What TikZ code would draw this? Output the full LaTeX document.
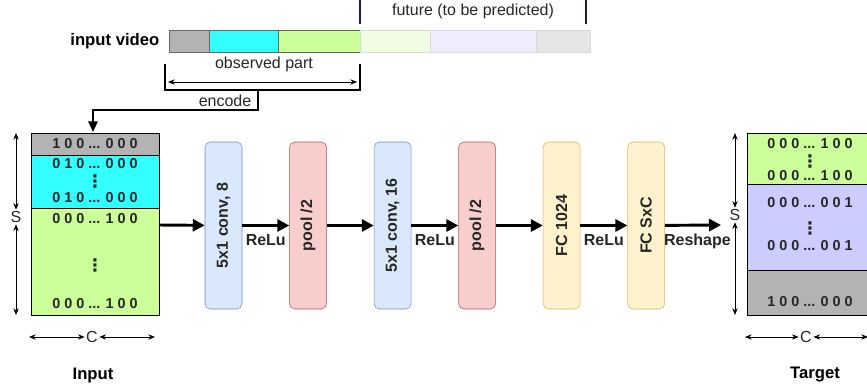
\documentclass[tikz,border=0pt]{standalone}
\usepackage{fontspec}
\setmainfont{Liberation Sans}
\newfontfamily\dejavu{DejaVu Sans}
\usetikzlibrary{arrows.meta,positioning}

\definecolor{txtgray}{HTML}{262626}
\definecolor{cellgray}{HTML}{B3B3B3}
\definecolor{cellcyan}{HTML}{33FFFF}
\definecolor{cellgreen}{HTML}{CCFF99}
\definecolor{celllav}{HTML}{CCCCFF}
\definecolor{futgreen}{HTML}{EFFDE3}
\definecolor{futlav}{HTML}{EEEEFF}
\definecolor{futgray}{HTML}{E6E6E6}
\definecolor{convfill}{HTML}{DAE8FC}
\definecolor{convline}{HTML}{6C8EBF}
\definecolor{poolfill}{HTML}{F8CECC}
\definecolor{poolline}{HTML}{B85450}
\definecolor{fcfill}{HTML}{FFF2CC}
\definecolor{fcline}{HTML}{D6B656}
\definecolor{navy}{HTML}{1A1A4D}

\newcommand{\vdotsrow}{{\dejavu\bfseries\fontsize{13}{13}\selectfont ⋮}}

\begin{document}
\begin{tikzpicture}[x=0.75pt,y=-0.75pt,
                    node distance=35.25pt,
                    every node/.style={font=\fontsize{12}{14}\selectfont,text=txtgray},
                    layer/.style={draw,rounded corners=4pt,minimum width=27.75pt,
                                  minimum height=125.25pt,inner sep=0pt,
                                  font=\bfseries\fontsize{12}{14}\selectfont},
                    conv node/.style={layer,fill=convfill,draw=convline},
                    pool node/.style={layer,fill=poolfill,draw=poolline},
                    fc node/.style={layer,fill=fcfill,draw=fcline},
                    flow/.style={-{Triangle[length=9pt,width=9pt]},line width=2.2pt},
                    row/.style={inner sep=0pt,font=\bfseries\fontsize{10.8}{12}\selectfont},
                    dim/.style={{Stealth[length=5pt,width=4pt]}-{Stealth[length=5pt,width=4pt]},line width=0.6pt},
                    bold label/.style={font=\bfseries\fontsize{12.5}{14}\selectfont,text=black}]

  \useasboundingbox (0,0) rectangle (867,389);

  % input video strip
  \node[bold label,anchor=east] (video) at (164,41) {input video};
  \draw[draw=black!60,fill=cellgray] (169,30) rectangle (209,52);
  \draw[draw=black!60,fill=cellcyan] (209,30) rectangle (278,52);
  \draw[draw=black!60,fill=cellgreen] (278,30) rectangle (360,52);
  \draw[draw=black!15,fill=futgreen] (360,30) rectangle (430,52);
  \draw[draw=black!15,fill=futlav] (430,30) rectangle (536,52);
  \draw[draw=black!15,fill=futgray] (536,30) rectangle (590,52);

  % future bracket
  \draw[navy,line width=1.5pt] (360,0) -- (360,24);
  \draw[navy,line width=1.5pt] (586,0) -- (586,24);
  \node (future) at (473,11) {future (to be predicted)};

  % observed bracket
  \node (observed) at (264,64) {observed part};
  \coordinate (obsL) at (165,64);
  \coordinate (obsR) at (360,64);
  \coordinate (encTop) at (258,90);
  \draw[line width=1.5pt] (obsL) -- (165,90) -- (360,90) -- (obsR);
  \draw[dim] (168,82) -- (357,82);
  \node (encode) at (225,101) {encode};

  % input matrix
  \draw[fill=cellgray] (31,133) rectangle (159,155);
  \draw[fill=cellcyan] (31,155) rectangle (159,208);
  \draw[fill=cellgreen] (31,208) rectangle (159,315);
  \coordinate (inTop) at (93,132);
  \draw[-{Triangle[length=8pt,width=7pt]},line width=1.5pt] (encTop) -- (258,110) -- (93,110) -- (inTop);
  \node[row] (in1) at (95,144) {1 0 0 ... 0 0 0};
  \node[row] (in2) at (95,164) {0 1 0 ... 0 0 0};
  \node[row] (in3) at (95,181) {\vdotsrow};
  \node[row] (in4) at (95,198) {0 1 0 ... 0 0 0};
  \node[row] (in5) at (95,219) {0 0 0 ... 1 0 0};
  \node[row] (in6) at (95,265) {\vdotsrow};
  \node[row] (in7) at (95,304) {0 0 0 ... 1 0 0};
  \node[fill=white,inner sep=1pt] (inS) at (16,217) {S};
  \draw[dim] (inS) -- (16,133);
  \draw[dim] (inS) -- (16,315);
  \node[fill=white,inner sep=1pt] (inC) at (92,337) {C};
  \draw[dim] (inC) -- (29,337);
  \draw[dim] (inC) -- (155,337);
  \node[bold label] (input) at (93,375) {Input};
  \coordinate (inR) at (159,225);

  % network
  \node[conv node] (conv1) at (223.5,225.5) {\rotatebox{90}{5x1 conv, 8}};
  \node[pool node] (pool1) [right=of conv1] {\rotatebox{90}{pool /2}};
  \node[conv node] (conv2) [right=of pool1] {\rotatebox{90}{5x1 conv, 16}};
  \node[pool node] (pool2) [right=of conv2] {\rotatebox{90}{pool /2}};
  \node[fc node] (fc1) [right=of pool2] {\rotatebox{90}{FC 1024}};
  \node[fc node] (fc2) [right=of fc1] {\rotatebox{90}{FC SxC}};

  \draw[flow] (inR) -- (conv1);
  \path[flow,every node/.style={below=2pt,font=\bfseries\fontsize{12}{14}\selectfont,text=txtgray}]
    (conv1) edge node {ReLu} (pool1)
    (pool1) edge (conv2)
    (conv2) edge node {ReLu} (pool2)
    (pool2) edge (fc1)
    (fc1)   edge node {ReLu} (fc2);
  \coordinate (outL) at (721,225);
  \draw[flow] (fc2) -- node[pos=0.58,below=2pt,font=\bfseries\fontsize{12}{14}\selectfont] {Reshape} (outL);

  % target matrix
  \draw[fill=cellgreen] (747,133) rectangle (870,184);
  \draw[fill=celllav] (747,184) rectangle (870,270);
  \draw[fill=cellgray] (747,270) rectangle (870,315);
  \node[row] (out1) at (810,144) {0 0 0 ... 1 0 0};
  \node[row] (out2) at (810,161) {\vdotsrow};
  \node[row] (out3) at (810,176) {0 0 0 ... 1 0 0};
  \node[row] (out4) at (810,203) {0 0 0 ... 0 0 1};
  \node[row] (out5) at (810,228) {\vdotsrow};
  \node[row] (out6) at (810,246) {0 0 0 ... 0 0 1};
  \node[row] (out7) at (810,302) {1 0 0 ... 0 0 0};
  \node[fill=white,inner sep=1pt] (outS) at (735,215) {S};
  \draw[dim] (outS) -- (735,133);
  \draw[dim] (outS) -- (735,315);
  \node[fill=white,inner sep=1pt] (outC) at (806,337) {C};
  \draw[dim] (outC) -- (745,337);
  \draw[dim] (outC) -- (868,337);
  \node[bold label] (target) at (815,375) {Target};
\end{tikzpicture}
\end{document}
